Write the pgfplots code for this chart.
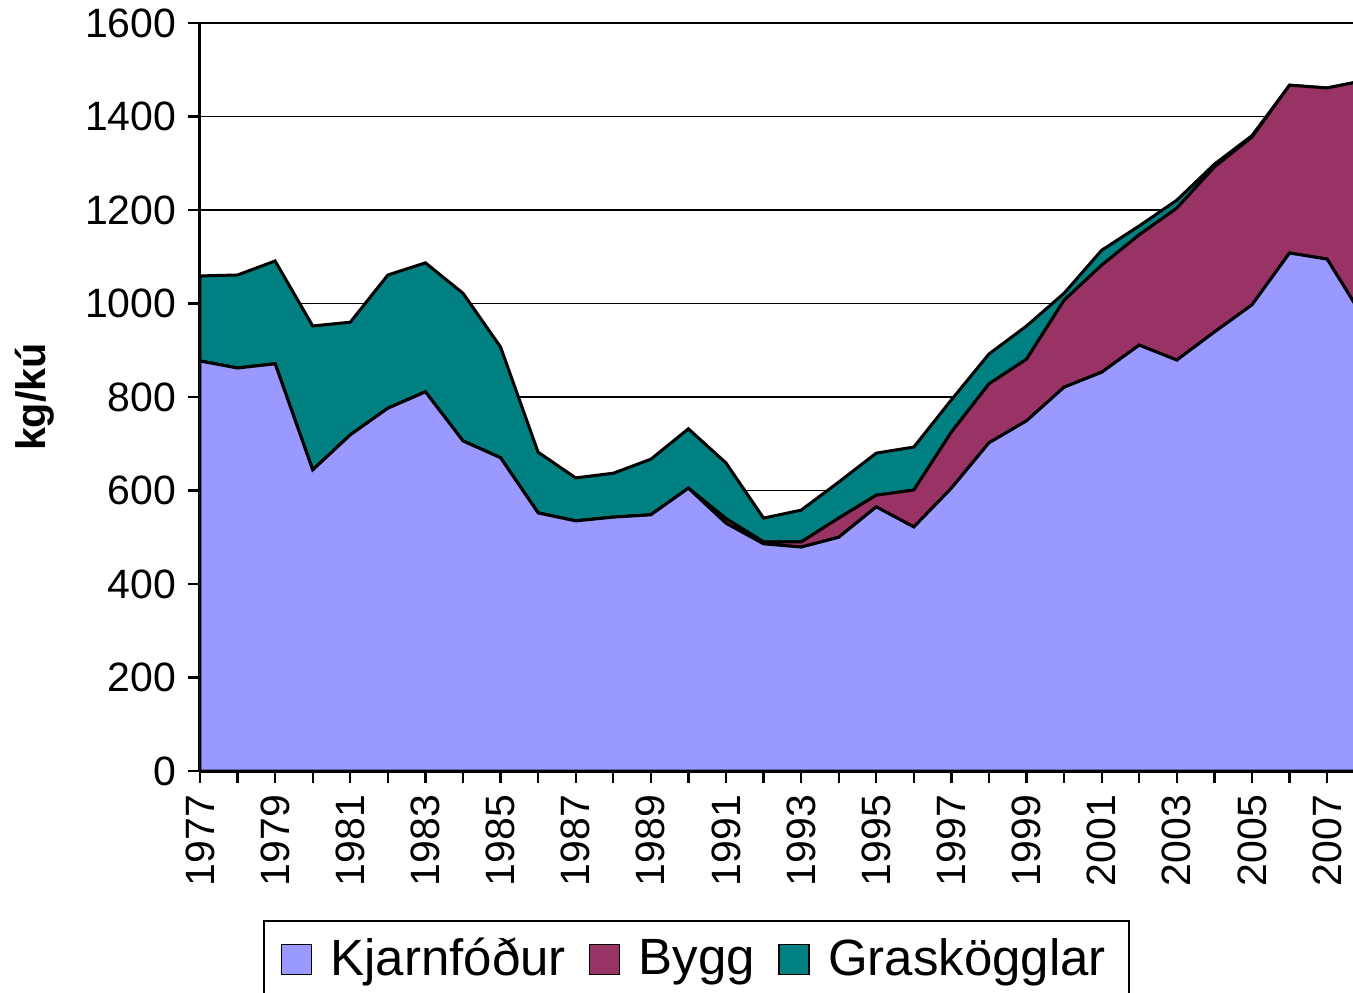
\documentclass[border=0pt]{standalone}
\usepackage{pgfplots}
\usepackage{pgfplotstable}
\pgfplotsset{compat=1.18}
\usepackage{fontspec}
\setmainfont{Liberation Sans}
\definecolor{kjarn}{HTML}{9999FF}
\definecolor{bygg}{HTML}{993366}
\definecolor{gras}{HTML}{008080}

\pgfplotstableread{
year kjarn bygg gras
1977 877 0 182
1978 862 0 199
1979 871 0 220
1980 644 0 308
1981 719 0 241
1982 776 0 285
1983 811 0 276
1984 706 0 316
1985 670 0 237
1986 552 0 130
1987 535 0 92
1988 543 0 94
1989 548 0 119
1990 605 0 127
1991 530 10 119
1992 486 4 51
1993 479 11 68
1994 500 41 77
1995 565 25 90
1996 522 79 92
1997 605 120 69
1998 702 126 64
1999 749 132 71
2000 821 186 15
2001 853 229 32
2002 911 236 19
2003 879 325 17
2004 939 353 6
2005 997 359 3
2006 1108 359 0
2007 1095 366 0
2008 965 512 0
}\datatable

\begin{document}
\begin{tikzpicture}
\begin{axis}[
  width=345.9pt, height=224.4pt, scale only axis,
  xmin=1977, xmax=2007.69, ymin=0, ymax=1600,
  axis x line=bottom, axis y line=left,
  axis line style={-, black, line width=0.9pt},
  stack plots=y,
  ytick={0,200,...,1600},
  xtick={1977,1978,...,2007},
  xticklabels={1977,,1979,,1981,,1983,,1985,,1987,,1989,,1991,,1993,,1995,,1997,,1999,,2001,,2003,,2005,,2007},
  tick align=outside,
  major tick length=3.6pt,
  tick style={black, line width=0.7pt},
  ymajorgrids,
  grid style={black, line width=0.5pt},
  /pgf/number format/assume math mode=true,
  yticklabel style={font=\fontsize{12.3}{14}\selectfont, /pgf/number format/1000 sep={}},
  xticklabel style={font=\fontsize{12.3}{14}\selectfont, rotate=90, anchor=east},
  ylabel={kg/kú},
  ylabel style={font=\bfseries\fontsize{12.4}{14}\selectfont, at={(axis description cs:-0.143,0.5)}, anchor=center},
  legend columns=3,
  legend style={at={(axis description cs:0,0)}, anchor=north west, xshift=18.9pt, yshift=-44.7pt,
    draw=black, line width=0.7pt, font=\fontsize{15.3}{18}\selectfont,
    inner xsep=5pt, inner ysep=3pt,
    /tikz/every odd column/.append style={column sep=3.5pt},
    /tikz/every even column/.append style={column sep=5pt}},
  legend image code/.code={\draw[#1, draw=black, line width=0.4pt] (0pt,-4.5pt) rectangle (9pt,4.5pt);},
]
\addplot[fill=kjarn, draw=black, line width=0.9pt] table[x=year, y=kjarn] {\datatable} \closedcycle;
\addlegendentry{Kjarnfóður}
\addplot[fill=bygg, draw=black, line width=0.9pt] table[x=year, y=bygg] {\datatable} \closedcycle;
\addlegendentry{Bygg}
\addplot[fill=gras, draw=black, line width=0.9pt] table[x=year, y=gras] {\datatable} \closedcycle;
\addlegendentry{Graskögglar}
\coordinate (bl) at (rel axis cs:0,0);
\coordinate (tr) at (rel axis cs:1,1);
\end{axis}
\pgfresetboundingbox
\path[use as bounding box] ([xshift=-60pt,yshift=-66.3pt]bl) rectangle ([yshift=6.9pt]tr);
\end{tikzpicture}
\end{document}
